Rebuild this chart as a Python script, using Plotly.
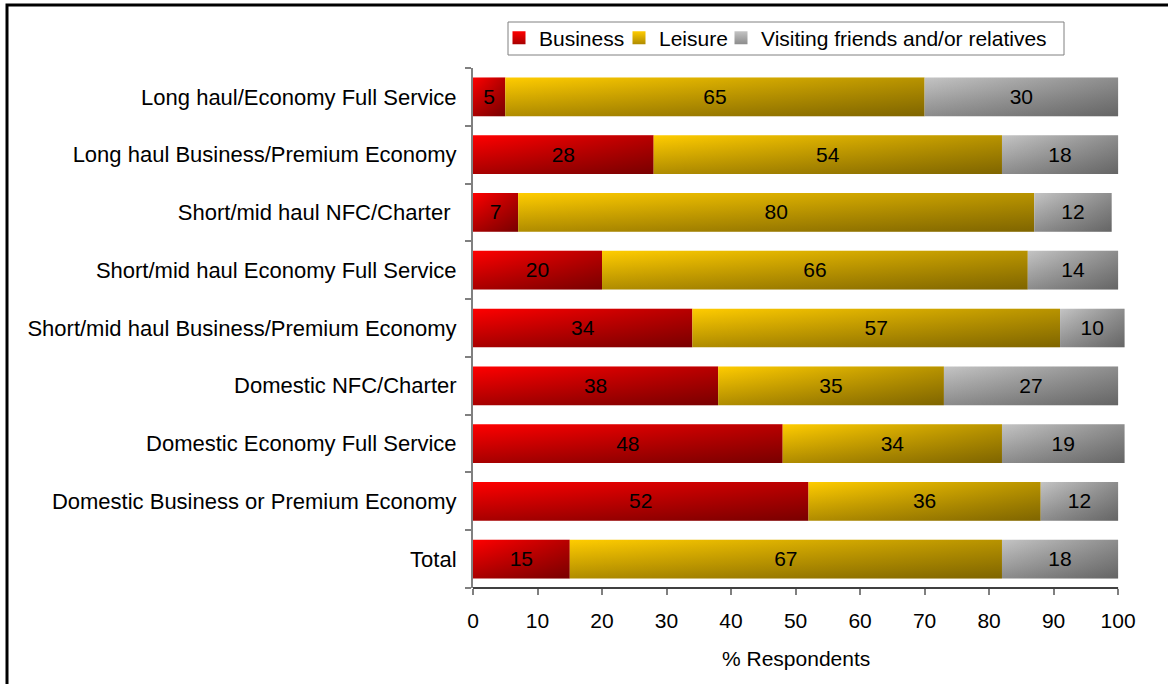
import plotly.graph_objects as go

# Travel purpose by cabin / product type (% of respondents)
categories = [
    "Long haul/Economy Full Service",
    "Long haul Business/Premium Economy",
    "Short/mid haul NFC/Charter ",
    "Short/mid haul Economy Full Service",
    "Short/mid haul Business/Premium Economy",
    "Domestic NFC/Charter",
    "Domestic Economy Full Service",
    "Domestic Business or Premium Economy",
    "Total",
]
business = [5, 28, 7, 20, 34, 38, 48, 52, 15]
leisure = [65, 54, 80, 66, 57, 35, 34, 36, 67]
visiting = [30, 18, 12, 14, 10, 27, 19, 12, 18]

series_names = ["Business", "Leisure", "Visiting friends and/or relatives"]
x_ticks = [0, 10, 20, 30, 40, 50, 60, 70, 80, 90, 100]

FONT = "Liberation Sans, Arial, sans-serif"
# (top colour, bottom colour) for the vertical part of each bar's shading
shades = [("#ff0000", "#a80000"), ("#ffcc00", "#b08c00"), ("#c4c4c4", "#8c8c8c")]
half = 0.335  # half bar thickness in category units

# plot-area geometry in pixels, used for paper-space helpers
L, T, W, H = 473, 68, 658, 520


def px_x(p):
    return (p - L) / W


def px_y(p):
    return (T + H - p) / H


fig = go.Figure()

series = [business, leisure, visiting]
for s_idx, vals in enumerate(series):
    top_c, bot_c = shades[s_idx]
    for i, v in enumerate(vals):
        left = sum(series[k][i] for k in range(s_idx))
        right = left + v
        y0, y1 = i - half, i + half
        xs = [left, right, right, left, left]
        ys = [y0, y0, y1, y1, y0]
        # vertical light-to-dark shading
        fig.add_trace(go.Scatter(
            x=xs, y=ys, mode="lines", fill="toself",
            line=dict(width=0), hoverinfo="skip", showlegend=False,
            fillgradient=dict(type="vertical", start=y0, stop=y1,
                              colorscale=[[0, top_c], [1, bot_c]]),
        ))
        # darkening towards the right end, giving a diagonal sheen
        fig.add_trace(go.Scatter(
            x=xs, y=ys, mode="lines", fill="toself",
            line=dict(width=0), hoverinfo="skip", showlegend=False,
            fillgradient=dict(type="horizontal", start=left, stop=right,
                              colorscale=[[0, "rgba(0,0,0,0)"], [1, "rgba(0,0,0,0.28)"]]),
        ))

# value labels centred in each segment
for s_idx, vals in enumerate(series):
    mids = []
    for i, v in enumerate(vals):
        left = sum(series[k][i] for k in range(s_idx))
        mids.append(left + v / 2)
    fig.add_trace(go.Scatter(
        x=mids, y=[i + 0.03 for i in range(len(categories))], mode="text",
        text=[str(v) for v in vals], textposition="middle center",
        textfont=dict(family=FONT, size=21, color="#000000"),
        hoverinfo="skip", showlegend=False,
    ))

# legend entries, each in its own legend so the spacing can be set freely
legend_ids = ["legend", "legend2", "legend3"]
legend_left_px = [499, 619, 721]
for s_idx, name in enumerate(series_names):
    top_c, bot_c = shades[s_idx]
    fig.add_trace(go.Scatter(
        x=[None], y=[None], mode="markers", name=name,
        legend=legend_ids[s_idx],
        marker=dict(symbol="square", size=13, color=top_c,
                    gradient=dict(type="vertical", color=bot_c),
                    line=dict(width=0)),
    ))

legend_style = dict(
    orientation="h", y=px_y(17.5), xanchor="left", yanchor="top",
    borderwidth=0, bgcolor="rgba(0,0,0,0)",
    font=dict(family=FONT, size=21, color="#000000"),
    itemwidth=30, tracegroupgap=0,
)

bounds = [i - 0.5 for i in range(len(categories) + 1)]

fig.update_layout(
    width=1168, height=684,
    margin=dict(l=L, r=1168 - L - W, t=T, b=684 - T - H),
    paper_bgcolor="white", plot_bgcolor="white",
    font=dict(family=FONT, size=21, color="#000000"),
    showlegend=True,
    legend=dict(x=px_x(legend_left_px[0]), **legend_style),
    legend2=dict(x=px_x(legend_left_px[1]), **legend_style),
    legend3=dict(x=px_x(legend_left_px[2]), **legend_style),
    xaxis=dict(
        range=[0, 102], tickmode="array", tickvals=x_ticks,
        ticks="outside", ticklen=6, tickwidth=1.5, tickcolor="#808080",
        ticklabelstandoff=8,
        showline=False, showgrid=False, zeroline=False,
        tickfont=dict(family=FONT, size=21, color="#000000"),
    ),
    yaxis=dict(
        range=[len(categories) - 0.5, -0.5], tickmode="array",
        tickvals=list(range(len(categories))), ticktext=categories,
        ticks="", ticklabelstandoff=10,
        showline=True, linecolor="#808080", linewidth=2,
        showgrid=False, zeroline=False,
        tickfont=dict(family=FONT, size=22, color="#000000"),
        minor=dict(tickmode="array", tickvals=bounds, ticks="outside",
                   ticklen=6, tickwidth=1.5, tickcolor="#808080", showgrid=False),
    ),
    shapes=[
        # x axis baseline from 0 to 100
        dict(type="line", xref="x", yref="paper", x0=0, x1=100, y0=0, y1=0,
             line=dict(color="#000000", width=1.5), layer="above"),
        # legend box
        dict(type="rect", xref="paper", yref="paper",
             x0=px_x(508), x1=px_x(1064), y0=px_y(55), y1=px_y(22),
             line=dict(color="#808080", width=1), fillcolor="rgba(0,0,0,0)",
             layer="above"),
        # outer frame
        dict(type="rect", xref="paper", yref="paper",
             x0=px_x(7), x1=px_x(1200),
             y0=px_y(720), y1=px_y(5),
             line=dict(color="#000000", width=3), layer="below"),
    ],
    annotations=[
        dict(text="% Respondents", xref="x", yref="paper", x=50,
             y=px_y(658), showarrow=False, xanchor="center",
             yanchor="middle", font=dict(family=FONT, size=21, color="#000000")),
    ],
)

fig.write_html("out.html")
